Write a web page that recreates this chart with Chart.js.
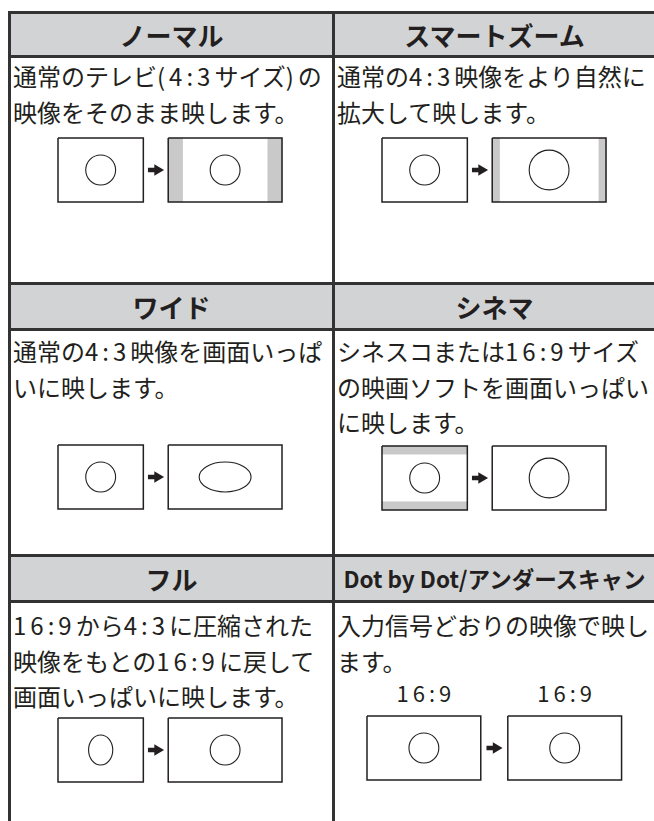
<!DOCTYPE html>
<html lang="ja">
<head>
<meta charset="utf-8">
<title>画面サイズ</title>
<script src="https://cdn.jsdelivr.net/npm/chart.js@4.4.1/dist/chart.umd.min.js"></script>
<style>
  body {
    margin: 0;
    width: 654px;
    height: 821px;
    overflow: hidden;
    position: relative;
    background: #fff;
    color: #231f20;
    font-family: "Noto Sans CJK JP", sans-serif;
  }
  #frame {
    position: absolute;
    left: 8px;
    top: 11px;
    width: 660px;
    height: 830px;
    background: #333;
  }
  .cell { position: absolute; box-sizing: border-box; }
  .head {
    background: #d2d3d5;
    font-weight: 700;
    font-size: 26px;
    line-height: 1;
    display: flex;
    align-items: center;
    justify-content: center;
  }
  .body {
    background: #fff;
    font-size: 24px;
    line-height: 35.5px;
    white-space: nowrap;
    padding-left: 2px;
  }
  .n { letter-spacing: 4px; }
  .lbl {
    position: absolute;
    font-size: 22px;
    letter-spacing: 4px;
    line-height: 1;
    transform: translate(-50%, -50%);
  }
  canvas { position: absolute; }
</style>
</head>
<body>
<div id="frame"></div>
<script>
// one entry per mode, read left to right, top to bottom
const modeNames = ['ノーマル', 'スマートズーム', 'ワイド', 'シネマ', 'フル', 'Dot by Dot/アンダースキャン'];
const modeLines = [
  ['通常のテレビ(4:3サイズ)の', '映像をそのまま映します。'],
  ['通常の4:3映像をより自然に', '拡大して映します。'],
  ['通常の4:3映像を画面いっぱ', 'いに映します。'],
  ['シネスコまたは16:9サイズ', 'の映画ソフトを画面いっぱい', 'に映します。'],
  ['16:9から4:3に圧縮された', '映像をもとの16:9に戻して', '画面いっぱいに映します。'],
  ['入力信号どおりの映像で映し', 'ます。']
];

// picture frames, in units of screen height = 9
const srcWidth = [12, 12, 12, 12, 12, 16];
const dstWidth = [16, 16, 16, 16, 16, 16];
const frameGap = [3.5, 3.5, 3.5, 3.5, 3.5, 3.8];
const sideBar = [2, 1, 0, 0, 0, 0];          // grey pillars on the output frame
const letterBox = [0, 0, 0, 1.15, 0, 0];     // grey bands on the input frame
const srcShape = [[2.1, 2.1], [2.1, 2.1], [2.1, 2.1], [2.1, 2.1], [1.7, 2.1], [2.1, 2.1]]; // rx, ry
const dstShape = [[2.1, 2.1], [2.8, 2.8], [3.65, 2.1], [2.8, 2.8], [2.1, 2.1], [2.1, 2.1]];
const frameLabels = [null, null, null, null, null, ['16:9', '16:9']];

// page layout
const cellX = [11, 335];
const cellW = [321, 319];
const headY = [14, 285, 557];
const headH = [41, 43, 43];
const bodyY = [58, 331, 603];
const bodyH = [224, 223, 230];
const bodyPad = [0, 2, 4];
const diagPos = [[54, 134], [378, 134], [54, 441], [378, 442], [54, 714], [363, 712]];

const INK = '#231f20';
const GREY = '#c9c9c9';
const U = 64 / 9;        // pixels per unit
const CW = 270, CH = 72; // canvas size

const ellipsePlugin = {
  id: 'ellipses',
  afterDatasetsDraw(chart, args, opts) {
    const ctx = chart.ctx;
    const sx = chart.scales.x, sy = chart.scales.y;
    opts.items.forEach(e => {
      const cx = sx.getPixelForValue(e.cx);
      const cy = sy.getPixelForValue(e.cy);
      const rx = Math.abs(sx.getPixelForValue(e.cx + e.rx) - cx);
      const ry = Math.abs(sy.getPixelForValue(e.cy + e.ry) - cy);
      ctx.save();
      ctx.beginPath();
      ctx.ellipse(cx, cy, rx, ry, 0, 0, Math.PI * 2);
      ctx.lineWidth = 1.1;
      ctx.strokeStyle = INK;
      ctx.stroke();
      ctx.restore();
    });
  }
};

function rect(x0, y0, x1, y1) {
  return [{x: x0, y: y0}, {x: x1, y: y0}, {x: x1, y: y1}, {x: x0, y: y1}, {x: x0, y: y0}];
}

function outline(pts) {
  return {data: pts, borderColor: INK, borderWidth: 1.5, pointRadius: 0, borderJoinStyle: 'miter', fill: false};
}

function band(pts) {
  return {data: pts, borderColor: GREY, backgroundColor: GREY, borderWidth: 0.5, pointRadius: 0, fill: 'shape'};
}

function numbers(s) {
  return s.replace(/[0-9:()]+/g, m => '<span class="n">' + m + '</span>');
}

function drawDiagram(i) {
  const [left, top] = diagPos[i];
  const cv = document.createElement('canvas');
  cv.width = CW;
  cv.height = CH;
  cv.style.left = left + 'px';
  cv.style.top = top + 'px';
  document.body.appendChild(cv);

  const sw = srcWidth[i], dw = dstWidth[i];
  const dx = sw + frameGap[i];
  const mid = sw + frameGap[i] / 2;

  const datasets = [
    outline(rect(0, 0, sw, 9)),
    outline(rect(dx, 0, dx + dw, 9)),
    {data: [{x: mid - 1.1, y: 4.5}, {x: mid + 0.3, y: 4.5}], borderColor: INK, borderWidth: 4.5,
      pointRadius: 0, borderCapStyle: 'butt', fill: false},
    {data: [{x: mid + 0.25, y: 4.5}], showLine: false, pointStyle: 'triangle', pointRotation: 90,
      pointRadius: 6.5, pointBackgroundColor: INK, pointBorderWidth: 0, pointBorderColor: INK}
  ];
  if (sideBar[i]) {
    datasets.push(band(rect(dx, 0, dx + sideBar[i], 9)));
    datasets.push(band(rect(dx + dw - sideBar[i], 0, dx + dw, 9)));
  }
  if (letterBox[i]) {
    datasets.push(band(rect(0, 0, sw, letterBox[i])));
    datasets.push(band(rect(0, 9 - letterBox[i], sw, 9)));
  }

  const items = [
    {cx: sw / 2, cy: 4.5, rx: srcShape[i][0], ry: srcShape[i][1]},
    {cx: dx + dw / 2, cy: 4.5, rx: dstShape[i][0], ry: dstShape[i][1]}
  ];

  const chart = new Chart(cv, {
    type: 'line',
    data: {datasets},
    options: {
      responsive: false,
      animation: false,
      events: [],
      layout: {padding: 0, autoPadding: false},
      plugins: {
        legend: {display: false},
        tooltip: {enabled: false},
        ellipses: {items}
      },
      scales: {
        x: {type: 'linear', display: false, min: -4 / U, max: (CW - 4) / U},
        y: {type: 'linear', display: false, reverse: true, min: -4 / U, max: (CH - 4) / U}
      }
    },
    plugins: [ellipsePlugin]
  });

  if (frameLabels[i]) {
    [sw / 2, dx + dw / 2].forEach((v, k) => {
      const d = document.createElement('div');
      d.className = 'lbl';
      d.textContent = frameLabels[i][k];
      d.style.left = (left + chart.scales.x.getPixelForValue(v) + 2) + 'px';
      d.style.top = (top - 20.5) + 'px';
      document.body.appendChild(d);
    });
  }
}

for (let r = 0; r < 3; r++) {
  for (let c = 0; c < 2; c++) {
    const i = r * 2 + c;

    const h = document.createElement('div');
    h.className = 'cell head';
    h.style.left = cellX[c] + 'px';
    h.style.top = headY[r] + 'px';
    h.style.width = cellW[c] + 'px';
    h.style.height = headH[r] + 'px';
    if (i === 5) h.style.fontSize = '22.5px';
    h.textContent = modeNames[i];
    document.body.appendChild(h);

    const b = document.createElement('div');
    b.className = 'cell body';
    b.style.left = cellX[c] + 'px';
    b.style.top = bodyY[r] + 'px';
    b.style.width = cellW[c] + 'px';
    b.style.height = bodyH[r] + 'px';
    b.style.paddingTop = bodyPad[r] + 'px';
    b.innerHTML = modeLines[i].map(numbers).join('<br>');
    document.body.appendChild(b);

    drawDiagram(i);
  }
}
</script>
</body>
</html>
